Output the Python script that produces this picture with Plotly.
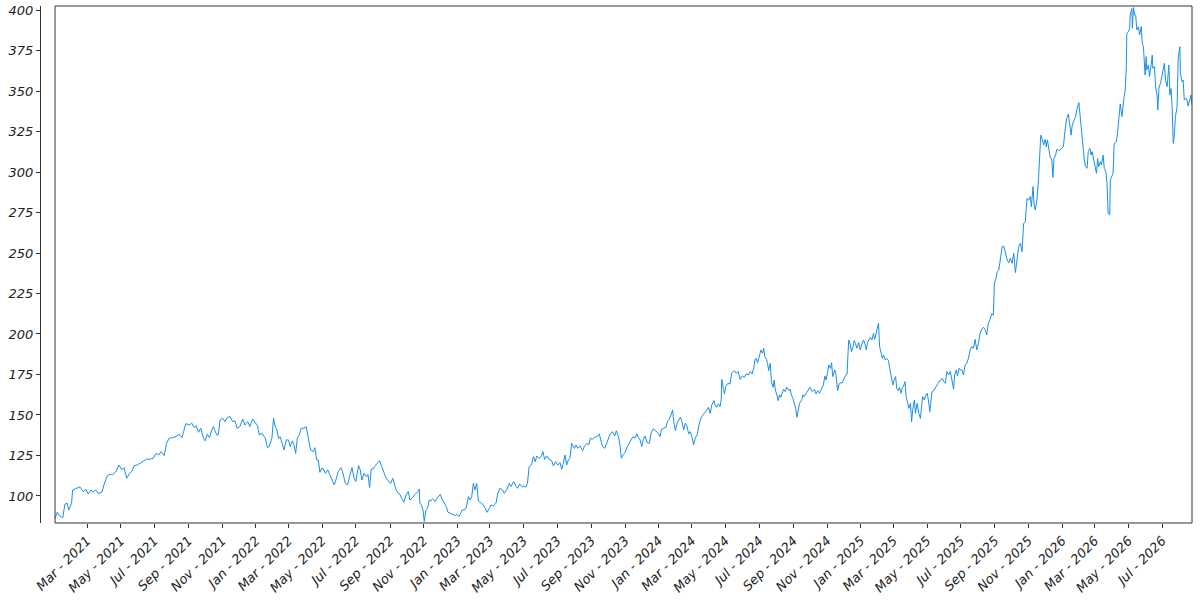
import pandas as pd
import plotly.graph_objects as go

# days counted from the first sample (2021-01-02)
day = [
    0, 4, 8, 14, 18, 22, 25, 30, 32, 36,
    45, 51, 56, 60, 65, 69, 74, 78, 85, 89,
    95, 100, 104, 111, 116, 121, 125, 130, 135, 140,
    143, 149, 154, 160, 166, 172, 178, 183, 188, 192,
    198, 202, 207, 213, 219, 225, 230, 233, 237, 243,
    248, 252, 256, 260, 264, 269, 272, 276, 280, 284,
    287, 290, 293, 296, 299, 304, 308, 312, 317, 322,
    326, 330, 335, 340, 344, 349, 353, 358, 362, 367,
    370, 375, 381, 385, 388,
    393, 396, 399, 402, 405, 408, 411, 415, 419, 423,
    426, 430, 433, 436, 439, 443, 446, 451, 455, 459,
    463, 468, 471, 474, 477, 480, 483, 486, 490, 494,
    498, 501, 506, 509, 513, 518, 521, 526, 530, 533,
    538, 542, 545, 550, 553, 556, 560, 564, 567, 570,
    573, 577, 580, 584, 588, 592, 596, 600, 604, 608,
    612, 615, 618, 622, 625, 628, 632, 636, 640, 643,
    647, 651, 654, 658, 660, 661, 664, 667, 669, 672,
    675, 678, 681, 684, 689, 692, 695, 698, 701, 705,
    709, 712, 716, 721, 725, 728, 732, 734, 738, 741,
    745, 749, 752, 755, 758, 761, 764, 767, 770, 775,
    779, 783, 787,
    790, 794, 799, 802, 806, 811, 814, 819, 823, 826,
    831, 835, 838, 842, 846, 849, 853, 856, 859, 863,
    867, 870, 873, 877, 881, 884, 887, 891, 895, 900,
    903, 907, 911, 915, 918, 921, 924, 927, 930, 933,
    936, 941, 944, 947, 951, 956, 959, 964, 967, 970,
    974, 977, 982, 986, 990, 992, 996, 999, 1003, 1006,
    1010, 1014, 1017, 1021, 1024, 1026, 1029, 1033, 1037, 1040,
    1044, 1047, 1051, 1054, 1057, 1060, 1063, 1066, 1069, 1073,
    1077, 1080, 1084, 1087, 1091, 1093, 1096, 1099, 1103, 1107,
    1110, 1113, 1116, 1119, 1121, 1124, 1127, 1130, 1133, 1136,
    1139, 1142, 1145, 1148, 1151, 1154, 1157, 1160, 1164, 1167,
    1171, 1174, 1178, 1181, 1184, 1187, 1190, 1194, 1196, 1199,
    1202, 1205, 1207, 1208, 1211, 1213, 1215, 1219, 1223, 1226,
    1229,
    1231, 1234, 1238, 1241, 1245, 1249, 1252, 1256, 1260, 1263,
    1266, 1268, 1270, 1273, 1276, 1279, 1282, 1284, 1286, 1289,
    1291, 1293, 1296, 1298, 1301, 1303, 1305, 1308, 1310, 1313,
    1315, 1318, 1320, 1323, 1326, 1330, 1332, 1334, 1337, 1339,
    1342, 1344, 1347, 1349, 1353, 1355, 1357, 1361, 1365, 1368,
    1372, 1376, 1379, 1382, 1385, 1389, 1392, 1395, 1397, 1400,
    1402, 1405, 1407, 1409, 1413, 1415, 1418, 1420, 1423, 1426,
    1429, 1432, 1435, 1437, 1438, 1441, 1443, 1446, 1448, 1450,
    1453, 1456, 1459, 1462, 1465, 1468, 1470, 1472, 1475, 1477,
    1480, 1483, 1485, 1488, 1490, 1492, 1494, 1496, 1499, 1501,
    1504, 1507, 1510, 1513, 1516, 1518, 1521, 1523, 1525, 1528,
    1530, 1533, 1535, 1537, 1540, 1542, 1545, 1547, 1550, 1552,
    1554, 1557, 1559, 1562, 1565, 1568, 1570, 1572, 1575, 1577,
    1580, 1582, 1585, 1587, 1589, 1592, 1594, 1597, 1600, 1604,
    1608, 1610, 1613, 1616, 1619, 1622, 1625, 1628, 1630, 1633,
    1635, 1638, 1640,
    1643, 1646, 1649, 1652, 1655, 1658, 1661, 1664, 1667, 1670,
    1673, 1676, 1679, 1682, 1685, 1688, 1691, 1694, 1697, 1700,
    1702, 1705, 1707, 1710, 1713, 1716, 1719, 1722, 1725, 1728,
    1731, 1734, 1737, 1740, 1743, 1746, 1749, 1752, 1755, 1758,
    1761, 1764, 1767, 1769, 1772, 1774, 1776, 1779, 1782, 1784,
    1786, 1789, 1791, 1794, 1796, 1798, 1801, 1803, 1806, 1808,
    1810, 1813, 1815, 1818, 1821, 1824, 1827, 1830, 1833, 1836,
    1838, 1841, 1843, 1846, 1849, 1852, 1855, 1858, 1860, 1862,
    1865, 1867, 1870, 1872, 1875, 1877, 1879, 1882, 1884, 1887,
    1889, 1891, 1894, 1896, 1899, 1901, 1904, 1906, 1908, 1911,
    1912, 1914, 1917, 1919, 1923, 1925, 1927, 1930, 1933, 1935,
    1937, 1939, 1941, 1942, 1945, 1947, 1948, 1951, 1952, 1954,
    1956, 1958, 1960, 1963, 1965, 1968, 1970, 1972, 1975, 1977,
    1978, 1981, 1983, 1986, 1988, 1989, 1992, 1994, 1997, 1998,
    2000, 2003, 2005, 2007, 2010, 2012, 2015, 2018, 2020, 2022,
    2024, 2026, 2028, 2030, 2033, 2035, 2038, 2039, 2042, 2044,
    2046, 2049, 2051, 2053, 2056, 2058, 2060,
]

price = [
    86.2, 89.9, 87.9, 86.6, 94.9, 95.5, 91.4, 95.5, 103.7, 104.3,
    105.6, 102.7, 104.1, 101.2, 103.7, 102.3, 103.7, 101.6, 102.3, 107.2,
    112.6, 113.4, 113.0, 115.4, 119.1, 116.1, 117.5, 110.9, 114.0, 115.4,
    118.7, 119.1, 120.2, 121.6, 122.8, 122.6, 123.3, 126.3, 125.3, 127.4,
    124.9, 132.5, 135.6, 136.0, 136.6, 138.1, 136.0, 139.7, 144.7, 143.8,
    144.9, 142.2, 143.4, 139.3, 141.8, 135.6, 134.0, 138.1, 136.0, 140.8,
    142.8, 140.1, 137.7, 137.7, 146.9, 148.0, 145.9, 148.4, 149.0, 145.9,
    146.3, 141.8, 142.8, 147.5, 143.8, 145.9, 142.8, 147.5, 145.9, 143.4,
    137.7, 138.7, 135.6, 129.8, 130.5,
    135.6, 148.0, 142.8, 140.8, 135.6, 136.6, 133.5, 128.4, 134.6, 134.6,
    130.5, 134.0, 131.5, 126.3, 135.6, 138.1, 141.8, 141.8, 142.8, 135.6,
    128.4, 127.4, 129.8, 122.2, 122.2, 114.6, 117.1, 116.7, 114.0, 116.1,
    113.0, 110.9, 106.8, 109.9, 115.0, 117.5, 115.0, 107.8, 106.8, 110.9,
    117.5, 110.9, 108.9, 118.7, 116.1, 109.9, 114.0, 111.9, 113.4, 105.2,
    116.7, 116.7, 118.7, 120.2, 121.8, 118.1, 115.0, 110.9, 109.3, 107.8,
    110.9, 106.8, 103.7, 101.7, 101.0, 98.6, 96.1, 100.6, 102.7, 97.5,
    98.6, 100.6, 101.7, 102.7, 104.3, 95.5, 94.5, 90.8, 84.2, 91.4,
    92.4, 97.5, 96.9, 98.2, 96.5, 98.6, 99.6, 101.0, 98.2, 95.5,
    93.4, 89.9, 89.3, 88.7, 87.9, 88.7, 87.3, 88.7, 91.4, 91.4,
    92.4, 99.6, 97.5, 99.6, 107.8, 103.7, 107.8, 96.9, 96.1, 94.9,
    92.8, 89.9, 92.4,
    94.4, 93.8, 95.5, 101.2, 104.7, 103.7, 101.6, 104.1, 107.8, 105.8,
    108.9, 106.2, 104.7, 107.4, 105.8, 106.2, 105.4, 107.8, 118.1, 119.1,
    124.3, 121.2, 124.7, 123.3, 124.3, 127.4, 122.6, 124.7, 122.6, 121.8,
    118.5, 121.2, 119.1, 120.6, 116.5, 120.2, 125.3, 119.1, 122.2, 123.3,
    132.5, 129.4, 131.5, 129.4, 130.9, 128.0, 130.5, 132.5, 131.5, 135.6,
    135.0, 136.2, 136.6, 138.3, 133.5, 130.5, 129.4, 132.5, 135.6, 138.3,
    139.7, 137.0, 140.3, 136.6, 130.5, 123.3, 125.3, 126.8, 130.5, 132.5,
    134.6, 136.6, 135.6, 138.3, 136.2, 134.6, 130.5, 135.0, 137.0, 132.9,
    132.5, 138.7, 141.6, 140.7, 139.7, 138.7, 136.6, 141.2, 141.8, 142.4,
    146.5, 147.3, 150.0, 153.1, 145.9, 140.3, 144.9, 147.3, 148.6, 145.9,
    140.7, 144.9, 143.2, 138.3, 139.7, 136.6, 131.5, 135.6, 138.3, 144.4,
    148.6, 150.0, 151.4, 153.1, 154.7, 151.0, 156.2, 158.9, 156.2, 154.7,
    156.8, 155.2, 159.3, 172.0, 166.5, 163.0, 167.5, 169.5, 169.1, 175.7,
    176.8,
    177.4, 175.7, 176.8, 172.0, 174.1, 173.3, 175.3, 174.7, 176.8, 175.3,
    178.8, 184.0, 185.0, 182.3, 187.0, 190.1, 188.1, 191.2, 186.0, 184.4,
    181.9, 177.4, 181.9, 170.6, 167.1, 171.6, 165.4, 162.4, 158.9, 162.4,
    160.9, 163.4, 165.9, 164.4, 167.1, 165.0, 165.9, 162.4, 160.3, 157.6,
    154.1, 148.6, 153.1, 157.2, 159.3, 162.4, 161.3, 163.4, 165.4, 167.1,
    164.4, 165.9, 163.0, 165.0, 163.4, 165.9, 168.5, 174.1, 171.6, 176.8,
    180.9, 178.8, 182.3, 173.7, 177.8, 174.7, 165.0, 168.5, 170.0, 169.6,
    172.0, 174.1, 175.3, 190.1, 196.3, 193.2, 189.1, 192.2, 195.9, 194.2,
    191.2, 194.7, 190.1, 194.2, 196.3, 193.2, 190.1, 194.7, 196.3, 197.9,
    196.3, 200.4, 196.7, 201.4, 202.9, 206.6, 192.2, 189.7, 185.0, 187.0,
    184.0, 185.0, 183.5, 177.8, 173.3, 168.5, 172.6, 173.7, 166.5, 165.0,
    167.1, 163.4, 166.5, 167.5, 170.6, 161.3, 157.2, 154.1, 157.2, 145.9,
    153.1, 159.3, 151.0, 157.2, 151.0, 147.9, 155.2, 161.3, 159.3, 161.7,
    163.4, 160.3, 152.1, 159.7, 164.4, 165.0, 166.5, 167.9, 169.6, 171.6,
    172.6, 170.6, 169.6, 176.8, 174.7, 176.8, 171.6, 165.9, 174.7, 177.8,
    174.1, 178.8, 177.8,
    177.8, 174.7, 180.9, 181.9, 185.0, 190.1, 192.2, 191.2, 196.7, 190.1,
    194.2, 200.4, 202.9, 204.1, 202.9, 199.4, 206.6, 209.1, 212.4, 211.7,
    231.3, 234.4, 238.5, 239.5, 246.7, 253.9, 254.3, 249.8, 245.7, 244.0,
    246.7, 243.6, 249.8, 237.9, 245.7, 253.9, 256.0, 250.8, 268.3, 269.3,
    283.7, 282.7, 284.8, 278.6, 291.0, 279.6, 276.5, 282.7, 296.1, 315.6,
    322.8, 319.8, 316.7, 320.2, 315.6, 319.8, 314.6, 309.5, 307.4, 296.7,
    308.4, 310.5, 314.0, 313.2, 313.6, 314.6, 315.6, 325.9, 333.1, 335.8,
    330.0, 322.8, 329.0, 331.1, 334.2, 339.3, 342.8, 332.1, 323.9, 317.7,
    307.4, 303.3, 302.3, 312.6, 314.6, 310.5, 312.6, 307.4, 303.3, 299.2,
    308.4, 303.3, 306.4, 304.3, 310.5, 302.3, 300.2, 293.0, 274.5, 273.5,
    295.1, 297.1, 299.2, 317.7, 318.7, 323.9, 333.1, 342.0, 334.2, 342.4,
    346.5, 350.6, 365.0, 385.6, 386.6, 388.7, 396.9, 401.0, 388.7, 401.5,
    396.9, 396.9, 387.7, 389.7, 384.6, 389.7, 379.4, 377.4, 359.9, 371.2,
    363.0, 366.1, 358.9, 366.1, 372.2, 364.0, 365.0, 352.7, 346.5, 338.3,
    351.6, 355.1, 358.9, 361.9, 367.1, 356.8, 352.7, 366.1, 347.5, 351.6,
    340.3, 317.7, 322.8, 334.2, 340.3, 370.2, 377.4, 360.9, 355.8, 356.8,
    344.4, 345.5, 344.4, 340.7, 345.5, 347.5, 341.4,
]

assert len(day) == len(price)

dates = pd.Timestamp("2021-01-02") + pd.to_timedelta(day, unit="D")

tick_font = dict(family="DejaVu Sans", size=13, color="#222222", style="italic")

fig = go.Figure()
fig.add_trace(go.Scatter(
    x=dates, y=price, mode="lines",
    line=dict(color="#1a8fe6", width=1),
    showlegend=False,
))

fig.update_layout(
    width=1200, height=600,
    margin=dict(l=40, r=8, t=6, b=77, autoexpand=False),
    paper_bgcolor="white", plot_bgcolor="white",
    xaxis=dict(
        domain=[15 / 1152, 1],
        range=["2021-01-02", "2026-08-24"],
        tickformat="%b - %Y", dtick="M2", tick0="2021-01-01",
        tickprefix="<i>", ticksuffix="</i>",
        tickangle=-45, ticks="outside", ticklen=4, tickcolor="#333333",
        tickfont=tick_font, showgrid=False, zeroline=False, showline=False,
        automargin=False,
    ),
    yaxis=dict(
        anchor="free", position=0,
        range=[83.3, 402.5], dtick=25, tick0=0,
        tickprefix="<i>", ticksuffix="</i>",
        ticks="outside", ticklen=4, tickcolor="#333333",
        showline=True, linecolor="#333333", linewidth=1,
        tickfont=tick_font, showgrid=False, zeroline=False,
        automargin=False,
    ),
    shapes=[dict(
        type="rect", xref="x domain", yref="y domain",
        x0=0, x1=1, y0=0, y1=1,
        line=dict(color="#333333", width=1),
    )],
)

# drop the browser's default body margin so the figure sits at the window corner
fig.write_html(
    "out.html",
    config={"displayModeBar": False},
    post_script="document.body.style.margin='0';",
)
